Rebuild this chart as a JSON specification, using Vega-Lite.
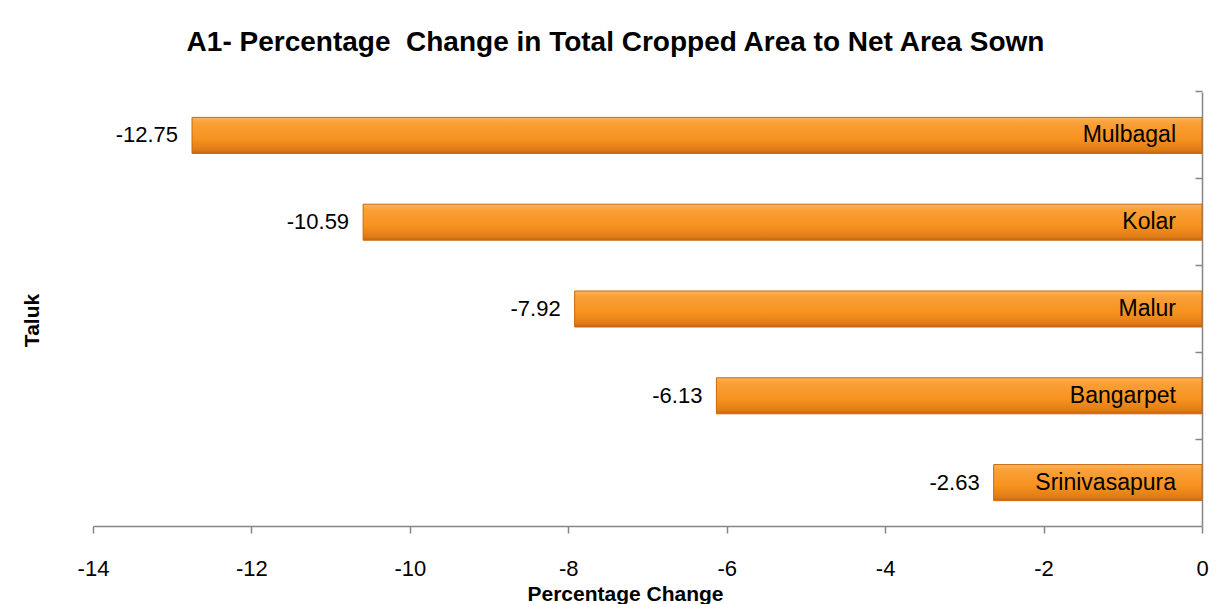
{
  "$schema": "https://vega.github.io/schema/vega-lite/v6.json",
  "width": 1109,
  "height": 434,
  "autosize": {"type": "none"},
  "padding": {"left": 93, "top": 92, "right": 29, "bottom": 78},
  "background": "white",
  "config": {
    "view": {"stroke": null},
    "font": "Liberation Sans",
    "locale": {
      "number": {"decimal": ".", "thousands": ",", "grouping": [3], "currency": ["$", ""], "minus": "-"}
    }
  },
  "title": {
    "text": "A1- Percentage\u00a0 Change in Total Cropped Area to Net Area Sown",
    "fontSize": 28,
    "fontWeight": "bold",
    "color": "#000000",
    "anchor": "middle",
    "dx": -32,
    "offset": 33
  },
  "data": {
    "values": [
      {"Taluk": "Mulbagal", "Change": -12.75},
      {"Taluk": "Kolar", "Change": -10.59},
      {"Taluk": "Malur", "Change": -7.92},
      {"Taluk": "Bangarpet", "Change": -6.13},
      {"Taluk": "Srinivasapura", "Change": -2.63}
    ]
  },
  "encoding": {
    "y": {
      "field": "Taluk",
      "type": "nominal",
      "sort": null,
      "scale": {"paddingInner": 0.585, "paddingOuter": 0.2925},
      "axis": {
        "orient": "right",
        "labels": false,
        "bandPosition": -0.705,
        "tickSize": -7,
        "tickColor": "#868686",
        "domainColor": "#868686",
        "domainWidth": 1.5,
        "tickWidth": 1.5,
        "title": "Taluk",
        "titleFontSize": 21,
        "titleFontWeight": "bold",
        "titleColor": "#000000",
        "titleAngle": 270,
        "titleX": -1170,
        "titleY": 228,
        "titleAlign": "center",
        "titleBaseline": "middle"
      }
    }
  },
  "layer": [
    {
      "mark": {
        "type": "bar",
        "stroke": "#c8690f",
        "strokeWidth": 1,
        "color": {
          "gradient": "linear",
          "x1": 0, "y1": 0, "x2": 0, "y2": 1,
          "stops": [
            {"offset": 0, "color": "#fdb55c"},
            {"offset": 0.15, "color": "#f9a038"},
            {"offset": 0.6, "color": "#f7921f"},
            {"offset": 0.9, "color": "#e07c16"},
            {"offset": 1, "color": "#c4660f"}
          ]
        }
      },
      "encoding": {
        "x": {
          "field": "Change",
          "type": "quantitative",
          "scale": {"domain": [-14, 0], "nice": false, "zero": false},
          "axis": {
            "values": [-14, -12, -10, -8, -6, -4, -2, 0],
            "format": "d",
            "grid": false,
            "tickSize": 7,
            "tickColor": "#868686",
            "domainColor": "#868686",
            "domainWidth": 1.5,
            "tickWidth": 1.5,
            "labelFontSize": 22,
            "labelColor": "#000000",
            "labelPadding": 25,
            "labelFlush": false,
            "title": "Percentage Change",
            "titleFontSize": 21,
            "titleFontWeight": "bold",
            "titleColor": "#000000",
            "titleX": 532,
            "titleY": 57,
            "titleAlign": "center",
            "titleBaseline": "top"
          }
        }
      }
    },
    {
      "mark": {"type": "text", "align": "right", "baseline": "middle", "dx": -14, "fontSize": 22, "color": "#000000"},
      "encoding": {
        "x": {"field": "Change", "type": "quantitative"},
        "text": {"field": "Change", "type": "quantitative", "format": ".2f"}
      }
    },
    {
      "mark": {"type": "text", "align": "right", "baseline": "middle", "dx": -26, "fontSize": 23, "color": "#000000"},
      "encoding": {
        "x": {"datum": 0, "type": "quantitative"},
        "text": {"field": "Taluk", "type": "nominal"}
      }
    }
  ]
}
